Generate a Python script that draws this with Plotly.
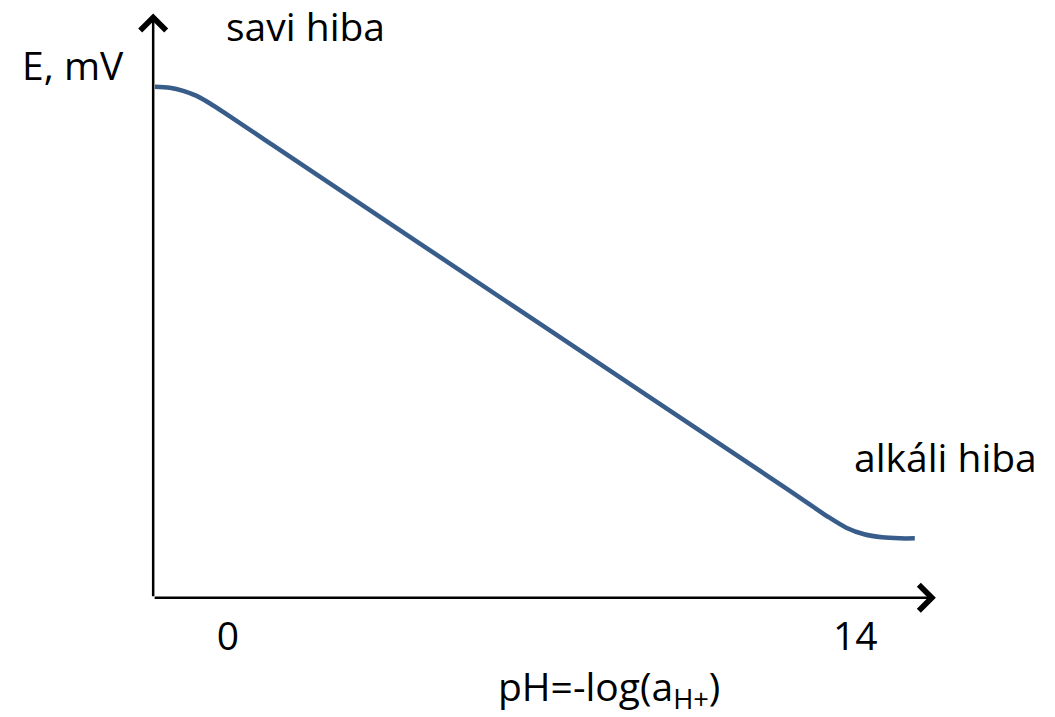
import plotly.graph_objects as go

# Data: electrode potential vs pH with acid & alkaline errors
ph_values = [-1.63, -1.3, -1.0, -0.7, -0.4, 0.0, 1.0, 7.0, 12.5, 13.0, 13.4, 13.8, 14.2, 14.6, 15.0, 15.33]
e_values = [470, 468, 462, 452, 437, 414, 355, 1, -323, -353, -377, -398, -411, -417, -419, -419]

tick_vals = [0, 14]
tick_text = ["0", "14"]

x_label = "pH=-log(a<sub>H+</sub>)"
y_label = "E, mV"
acid_label = "savi hiba"
alkali_label = "alkáli hiba"

# axis geometry (data units)
axis_origin_ph = -1.67
axis_origin_e = -536
x_arrow_end = 15.8
y_arrow_end = 614

FONT = "Open Sans"
fs = 39

fig = go.Figure()
fig.add_trace(go.Scatter(
    x=ph_values, y=e_values, mode="lines",
    line=dict(color="#385D8A", width=4.5, shape="spline", smoothing=0.8),
    hoverinfo="skip", showlegend=False,
))

annotations = [
    # x axis arrow
    dict(x=x_arrow_end, y=axis_origin_e, ax=axis_origin_ph, ay=axis_origin_e,
         xref="x", yref="y", axref="x", ayref="y", text="", showarrow=True,
         arrowhead=4, arrowsize=2, arrowwidth=2.5, arrowcolor="black", standoff=0, startstandoff=0),
    # y axis arrow
    dict(x=axis_origin_ph, y=y_arrow_end, ax=axis_origin_ph, ay=axis_origin_e,
         xref="x", yref="y", axref="x", ayref="y", text="", showarrow=True,
         arrowhead=4, arrowsize=2, arrowwidth=2.5, arrowcolor="black", standoff=0, startstandoff=0),
    dict(x=73, y=64, xref="paper", yref="paper", text=y_label, showarrow=False),
    dict(x=305, y=26, xref="paper", yref="paper", text=acid_label, showarrow=False),
    dict(x=945, y=456, xref="paper", yref="paper", text=alkali_label, showarrow=False),
    dict(x=609, y=688, xref="paper", yref="paper", text=x_label, showarrow=False),
]
W, H = 1055, 717
for a in annotations:
    if a.get("xref") == "paper":
        a["x"] = a["x"] / W
        a["y"] = 1 - a["y"] / H
        a["xanchor"] = "center"
        a["yanchor"] = "middle"
        a["font"] = dict(family=FONT, size=fs, color="black")

fig.update_layout(
    width=W, height=H,
    margin=dict(l=0, r=0, t=0, b=0),
    paper_bgcolor="white", plot_bgcolor="white",
    font=dict(family=FONT, size=fs, color="black"),
    xaxis=dict(range=[-5.089, 18.46], showgrid=False, zeroline=False, showline=False,
               tickvals=tick_vals, ticktext=tick_text, ticks="",
               anchor="free", position=1 - 598 / H, ticklabelstandoff=12,
               tickfont=dict(family=FONT, size=fs, color="black")),
    yaxis=dict(range=[-770.7, 640.7], visible=False),
    annotations=annotations,
)

fig.write_html("out.html")
